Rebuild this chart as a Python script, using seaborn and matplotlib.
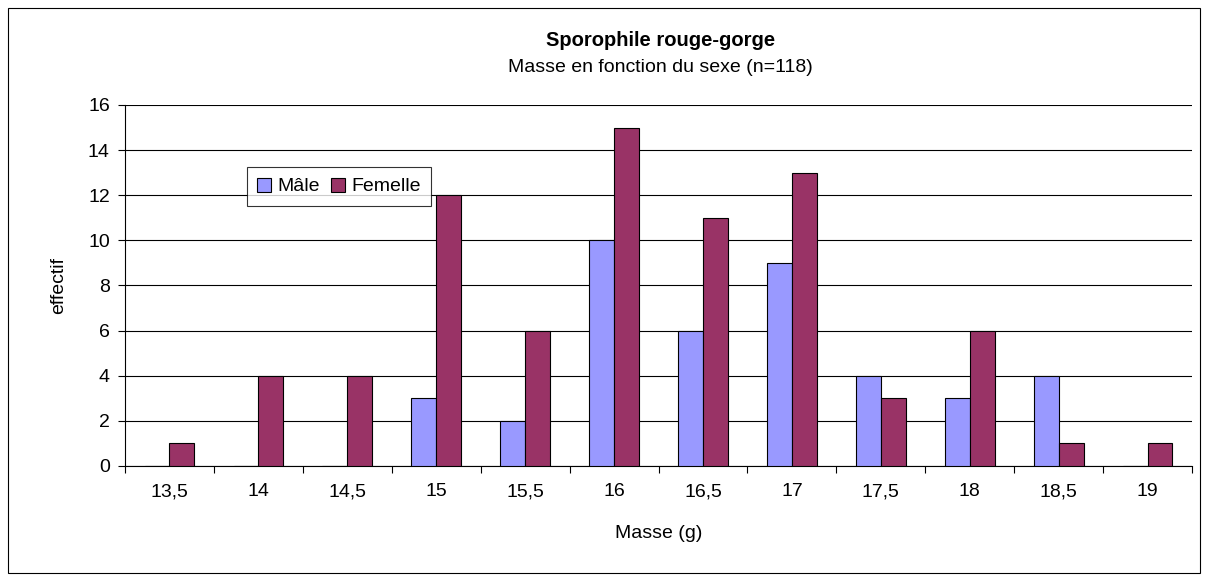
import numpy as np
import pandas as pd
import matplotlib
matplotlib.use('Agg')
import matplotlib.pyplot as plt
import seaborn as sns
from matplotlib.patches import Rectangle

sns.set_style('white')
plt.rcParams['font.family'] = ['Liberation Sans', 'DejaVu Sans']
plt.rcParams.update({'text.color': 'black', 'axes.labelcolor': 'black',
                     'xtick.color': 'black', 'ytick.color': 'black'})

# données
masses = ['13,5', '14', '14,5', '15', '15,5', '16', '16,5', '17', '17,5', '18', '18,5', '19']
male = [0, 0, 0, 3, 2, 10, 6, 9, 4, 3, 4, 0]
femelle = [1, 4, 4, 12, 6, 15, 11, 13, 3, 6, 1, 1]
sexes = ['Mâle', 'Femelle']
couleurs = ['#9999FF', '#993366']

df = pd.DataFrame({
    'masse': masses * 2,
    'effectif': male + femelle,
    'sexe': [sexes[0]] * len(masses) + [sexes[1]] * len(masses),
})

fs = 14

fig = plt.figure(figsize=(12.08, 5.81), dpi=100)
ax = fig.add_axes([0.1035, 0.198, 0.8833, 0.6213])

sns.barplot(data=df, x='masse', y='effectif', hue='sexe', order=masses,
            hue_order=sexes, palette=couleurs, width=0.56, gap=0,
            edgecolor='black', linewidth=0.8, saturation=1, ax=ax, zorder=3)

ax.set_ylim(0, 16)
ax.set_xlim(-0.5, len(masses) - 0.5)
ax.set_yticks(range(0, 17, 2))
ax.yaxis.grid(True, color='black', linewidth=0.8, zorder=0)
ax.tick_params(axis='y', left=True, length=5, width=0.8, labelsize=fs, pad=6)
ax.tick_params(axis='x', bottom=False, labelsize=fs, pad=9)
ax.set_xticks(np.arange(-0.5, len(masses), 1.0), minor=True)
ax.tick_params(axis='x', which='minor', bottom=True, length=5, width=0.8)
for s in ['top', 'right']:
    ax.spines[s].set_visible(False)
for s in ['left', 'bottom']:
    ax.spines[s].set_color('black')
    ax.spines[s].set_linewidth(0.8)

ax.set_xlabel('Masse (g)', fontsize=fs, labelpad=18)
ax.set_ylabel('effectif', fontsize=fs, labelpad=15)

fig.text(0.547, 0.931, 'Sporophile rouge-gorge', ha='center', va='center',
         fontsize=14.5, fontweight='bold')
fig.text(0.547, 0.883, 'Masse en fonction du sexe (n=118)', ha='center', va='center',
         fontsize=fs)

leg = ax.legend(loc='upper left', bbox_to_anchor=(0.114, 0.828), ncol=2,
                frameon=True, fancybox=False, fontsize=fs, handlelength=0.72,
                handleheight=0.72, handletextpad=0.3, columnspacing=0.6,
                borderpad=0.55, borderaxespad=0, title=None)
leg.get_frame().set_edgecolor('black')
leg.get_frame().set_linewidth(0.8)
leg.set_zorder(5)

# cadre de la figure
fig.patches.append(Rectangle((0.007, 0.014), 0.986, 0.972, transform=fig.transFigure,
                             fill=False, edgecolor='black', linewidth=0.8))

fig.savefig('out.png', dpi=100)
